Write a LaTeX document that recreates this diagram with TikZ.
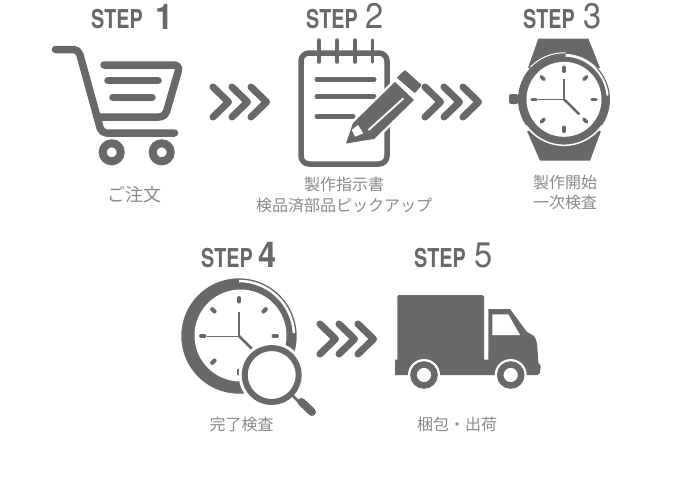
\documentclass[tikz,border=0pt]{standalone}
\usepackage{fontspec}
\setmainfont{TeX Gyre Heros}
\newfontfamily\jpfont{Noto Sans CJK JP}
\usepackage{tikz}
\definecolor{icongray}{RGB}{104,104,104}
\definecolor{textgray}{RGB}{138,138,138}
\tikzset{
	stepword/.style={anchor=base west,inner sep=0pt,text=icongray,font=\bfseries\fontsize{26}{26}\selectfont,xscale=0.76},
	stepnum/.style={anchor=base west,inner sep=0pt,text=icongray,font=\fontsize{35.5}{35.5}\selectfont,xscale=0.92},
	stepbold/.style={stepnum,font=\bfseries\fontsize{35.5}{35.5}\selectfont},
	caption/.style={inner sep=0pt,text=textgray,font=\jpfont\fontsize{16}{20.5}\selectfont,align=center},
	iconline/.style={draw=icongray,line cap=round,line join=round},
	chevron/.style={iconline,line width=7},
}
\newcommand{\chevrons}[2]{%
	\foreach \cx in {0,19,38} {
		\draw [chevron] (#1+\cx,#2-15) -- (#1+\cx+15.5,#2) -- (#1+\cx,#2+15);
	}
}
\begin{document}
\begin{tikzpicture}[x=1pt,y=1pt,yscale=-1,xscale=1]
	\useasboundingbox (0,0) rectangle (680,491);

	% Titles
	\node [stepword] (word1) at (91,28) {STEP};
	\node [stepbold] (num1) at (155,29) {1};
	\node [stepword] (word2) at (306,28) {STEP};
	\node [stepnum] (num2) at (365.5,28) {2};
	\node [stepword] (word3) at (523,28) {STEP};
	\node [stepnum] (num3) at (583,28) {3};
	\node [stepword] (word4) at (201,267) {STEP};
	\node [stepbold] (num4) at (258.5,267) {4};
	\node [stepword] (word5) at (414,267) {STEP};
	\node [stepnum] (num5) at (474,267) {5};

	% Captions
	\node [caption,font=\jpfont\fontsize{18}{20}\selectfont] (cap1) at (134,195) {ご注文};
	\node [caption] (cap2) at (344,195) {製作指示書\\検品済部品ピックアップ};
	\node [caption] (cap3) at (565,192.5) {製作開始\\一次検査};
	\node [caption] (cap4) at (241.5,424) {完了検査};
	\node [caption] (cap5) at (457,424) {梱包・出荷};

	% Chevrons
	\chevrons{213}{102}
	\chevrons{425}{102}
	\chevrons{320}{339}

	% Cart
	\draw [iconline,line width=7.5] (55.5,49.5) -- (74,49.5) [rounded corners=5] -- (78.5,49.5) -- (101.5,133) -- (174.5,133);
	\draw [iconline,line width=7.5,rounded corners=6] (104,65) -- (180,65) -- (165,117) -- (97,117);
	\draw [iconline,line width=7.5] (108,80.7) -- (158,80.7);
	\draw [iconline,line width=7.5] (113,97.7) -- (152,97.7);
	\foreach \wx in {111.7,161.7} {
		\draw [icongray,line width=8] (\wx,152.3) circle [radius=9];
	}

	% Notepad
	\draw [iconline,line width=5.5,rounded corners=8] (301,53) rectangle (387,164);
	\foreach \rx in {319,337,355,372.5} {
		\draw [iconline,line width=3.5] (\rx,40) -- (\rx,62);
	}
	\foreach \ly/\lx in {79.3/374,96.7/374,116.3/353} {
		\draw [iconline,line width=5] (317,\ly) -- (\lx,\ly);
	}
	\draw [draw=white,fill=white,line width=5,line join=round] (395,82) -- (414,100) -- (374,139) -- (346,143.5) -- (353,123) -- cycle;
	\fill [icongray] (395,82) -- (414,100) -- (374,139) -- (346,143.5) -- (353,123) -- cycle;
	\fill [icongray,rounded corners=1] (405,70) -- (421.7,85) -- (415,93.3) -- (396.7,77.7) -- cycle;
	\draw [white,line width=1.8] (368.5,130) -- (403.5,98.3);
	\fill [white] (351.7,130) -- (358,125) -- (363.3,133.3) -- (355,136.7) -- cycle;

	% Watch
	\fill [icongray] (538.3,38.5) -- (588.3,38.5) -- (600,68) -- (528,68) -- cycle;
	\fill [icongray] (527,131) -- (601,131) -- (590,160.7) -- (540,160.7) -- cycle;
	\fill [icongray,rounded corners=1.5] (509,94) rectangle (518,104);
	\fill [icongray] (564,99.3) circle [radius=46];
	\fill [white] (564,99.3) circle [radius=37.5];
	\draw [white,line width=1] (564,99.3) ++(-136:46.5) arc [start angle=-136,end angle=-88,radius=46.5];
	\draw [white,line width=1] (564,99.3) ++(-88:45) arc [start angle=-88,end angle=-44,radius=45];
	\draw [white,line width=2] (564,99.3) ++(-88:43.7) arc [start angle=-88,end angle=-5,radius=43.7];
	\draw [white,line width=1.5] (564,99.3) ++(35:46) arc [start angle=35,end angle=145,radius=46];
	\foreach \a in {0,45,...,315} {
		\draw [iconline,line width=3.5] (564,99.3) ++(\a:28) -- ++(\a:4);
	}
	\draw [icongray,line width=2.5] (564,99.3) -- (564,79.3);
	\draw [icongray,line width=1.2] (564,99.3) -- (538.3,99.3);
	\draw [icongray,line width=2.5] (564,99.3) -- (579.3,114.3);

	% Clock with magnifier
	\fill [icongray] (239,336) circle [radius=57.7];
	\draw [white,line width=2.5] (239,336) ++(-90:55) arc [start angle=-90,end angle=-3,radius=55];
	\fill [white] (240.5,335.5) circle [radius=46];
	\foreach \a in {0,45,...,315} {
		\draw [iconline,line width=4] (239,336) ++(\a:34.5) -- ++(\a:3.5);
	}
	\draw [icongray,line width=2.5] (239,336) -- (239,311.5);
	\draw [icongray,line width=1] (239,336) -- (207,336);
	\draw [icongray,line width=2.5] (239,336) -- (255,352);
	\fill [white] (271.7,375) circle [radius=33];
	\draw [icongray,line width=6] (271.7,375) circle [radius=27];
	\draw [icongray,line width=2.5] (291,394) -- (300,403);
	\draw [iconline,line width=8] (301.5,402) -- (312,412);

	% Truck
	\fill [icongray,rounded corners=1.5] (397.3,295) -- (484,295) -- (484,365) -- (397.3,365) -- cycle;
	\fill [icongray] (395,359.5) -- (488.3,359.5) -- (488.3,309) -- (510,309) -- (526.7,331.7) -- (534,336) [rounded corners=2] -- (537,342) -- (538.5,365) -- (541,365) -- (539.5,375) [sharp corners] -- (395,375) -- cycle;
	\fill [white] (492.3,314.3) -- (508.3,314.3) -- (520,335) -- (492.3,335) -- cycle;
	\foreach \wx in {424,510.7} {
		\fill [white] (\wx,375) circle [radius=16];
		\draw [icongray,line width=6.5] (\wx,375) circle [radius=10.5];
	}
\end{tikzpicture}
\end{document}
